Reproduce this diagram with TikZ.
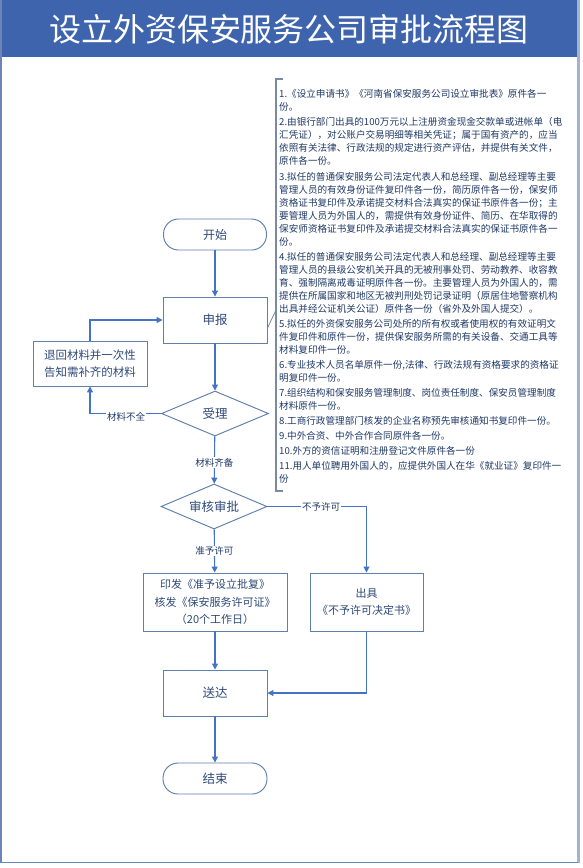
\documentclass[tikz,border=0pt]{standalone}
\usepackage{fontspec}
\newfontfamily\cjk{Noto Sans CJK SC}
\usetikzlibrary{shapes.geometric,arrows.meta}
\definecolor{titleblue}{HTML}{3F64AE}
\definecolor{frameblue}{HTML}{6A86B8}
\definecolor{frameshade}{HTML}{A3B3CF}
\definecolor{nodeline}{HTML}{6080AC}
\definecolor{arrowblue}{HTML}{4472C4}
\definecolor{txt}{HTML}{2E4A78}
\definecolor{lbl}{HTML}{203A66}
\definecolor{bracketgray}{HTML}{7A8AA2}
\tikzset{
  boxnode/.style={draw=nodeline, line width=0.95pt, fill=white, text=txt, align=center,
    font=\cjk\fontsize{12}{17.5}\selectfont, inner sep=0pt},
  stadium/.style={boxnode, rounded corners=15pt},
  decision/.style={boxnode, diamond, aspect=2.4, font=\cjk\fontsize{12.5}{15}\selectfont},
  flow/.style={draw=arrowblue, line width=1.1pt, -{Triangle[width=6pt,length=6pt]}},
  plainline/.style={draw=arrowblue, line width=1.1pt},
  flowlabel/.style={fill=white, text=lbl, inner sep=1pt, font=\cjk\fontsize{9.5}{11}\selectfont},
}
\begin{document}
\begin{tikzpicture}[x=1pt,y=-1pt]
\useasboundingbox (0,0) rectangle (583,868);
% frame and title
\fill[white] (0,0) rectangle (583,868);
\fill[titleblue] (1,0) rectangle (578,57);
\draw[frameshade, line width=2.5pt] (578.5,0) -- (578.5,863);
\draw[frameblue, line width=1.4pt] (1,0) -- (1,862.5) -- (578,862.5);
\node[font=\cjk\fontsize{32}{36}\selectfont, text=white] (title) at (289,29) {设立外资保安服务公司审批流程图};

% flow nodes
\node[stadium, minimum width=103pt, minimum height=31pt] (start) at (215,234.5) {开始};
\node[boxnode, minimum width=104pt, minimum height=46pt, font=\cjk\fontsize{12.5}{15}\selectfont] (sb) at (215,320) {申报};
\node[boxnode, minimum width=114pt, minimum height=45pt, font=\cjk\fontsize{11.5}{17}\selectfont] (back) at (90,363.5) {退回材料并一次性\\告知需补齐的材料};
\node[decision, minimum width=107pt, minimum height=45pt] (sl) at (215,413.5) {受理};
\node[decision, minimum width=106pt, minimum height=45pt] (sh) at (214,506.5) {审核审批};
\node[boxnode, minimum width=144pt, minimum height=58pt, font=\cjk\fontsize{11}{17.5}\selectfont] (yf) at (215,602) {印发《准予设立批复》\\核发《保安服务许可证》\\（20个工作日）};
\node[boxnode, minimum width=113pt, minimum height=58pt, font=\cjk\fontsize{11}{17}\selectfont] (cj) at (366.5,602) {出具\\《不予许可决定书》};
\node[boxnode, minimum width=104pt, minimum height=46pt, font=\cjk\fontsize{12.5}{15}\selectfont] (sd) at (215,693) {送达};
\node[stadium, minimum width=104pt, minimum height=31pt, font=\cjk\fontsize{12.5}{15}\selectfont] (end) at (215,778.5) {结束};

% connectors
\draw[flow] (start) -- (sb);
\draw[flow] (sb) -- (sl);
\draw[flow] (sl.west) -| (back.south);
\node[flowlabel] (lbnq) at (126,417) {材料不全};
\draw[flow] (back.north) |- (sb.west);
\draw[flow] (sl) -- (sh) node[flowlabel, pos=0.55] (lbqb) {材料齐备};
\draw[flow] (sh) -- (yf) node[flowlabel, pos=0.5] (lbzy) {准予许可};
\draw[flow] (sh.east) -| (cj.north);
\node[flowlabel] (lbby) at (321,507) {不予许可};
\draw[flow] (yf) -- (sd);
\draw[flow] (cj.south) |- (sd.east);
\draw[flow] (sd) -- (end);

% requirements bracket
\coordinate (bt) at (276,79);
\coordinate (bb) at (276,491);
\coordinate (bm) at (276,310);
\draw[bracketgray, line width=1.1pt] ([xshift=7pt]bt) -- (bt) -- (bb) -- ([xshift=7pt]bb);
\draw[bracketgray, line width=0.8pt] ([yshift=-8pt]sb.east) -- (bm);
\node[anchor=north west, inner sep=0pt, align=left, text=lbl, font=\cjk\fontsize{9.6}{13}\selectfont] (req) at (279,89.5) {%
1.《设立申请书》《河南省保安服务公司设立审批表》原件各一\\
份。\\[2.1pt]
2.由银行部门出具的100万元以上注册资金现金交款单或进帐单（电\\
汇凭证），对公账户交易明细等相关凭证；属于国有资产的，应当\\
依照有关法律、行政法规的规定进行资产评估，并提供有关文件，\\
原件各一份。\\[2.1pt]
3.拟任的普通保安服务公司法定代表人和总经理、副总经理等主要\\
管理人员的有效身份证件复印件各一份，简历原件各一份，保安师\\
资格证书复印件及承诺提交材料合法真实的保证书原件各一份；主\\
要管理人员为外国人的，需提供有效身份证件、简历、在华取得的\\
保安师资格证书复印件及承诺提交材料合法真实的保证书原件各一\\
份。\\[2.1pt]
4.拟任的普通保安服务公司法定代表人和总经理、副总经理等主要\\
管理人员的县级公安机关开具的无被刑事处罚、劳动教养、收容教\\
育、强制隔离戒毒证明原件各一份。主要管理人员为外国人的，需\\
提供在所属国家和地区无被判刑处罚记录证明（原居住地警察机构\\
出具并经公证机关公证）原件各一份（省外及外国人提交）。\\[2.1pt]
5.拟任的外资保安服务公司处所的所有权或者使用权的有效证明文\\
件复印件和原件一份，提供保安服务所需的有关设备、交通工具等\\
材料复印件一份。\\[2.1pt]
6.专业技术人员名单原件一份,法律、行政法规有资格要求的资格证\\
明复印件一份。\\[2.1pt]
7.组织结构和保安服务管理制度、岗位责任制度、保安员管理制度\\
材料原件一份。\\[2.1pt]
8.工商行政管理部门核发的企业名称预先审核通知书复印件一份。\\[2.1pt]
9.中外合资、中外合作合同原件各一份。\\[2.1pt]
10.外方的资信证明和注册登记文件原件各一份\\[2.1pt]
11.用人单位聘用外国人的，应提供外国人在华《就业证》复印件一\\
份};
\end{tikzpicture}
\end{document}
